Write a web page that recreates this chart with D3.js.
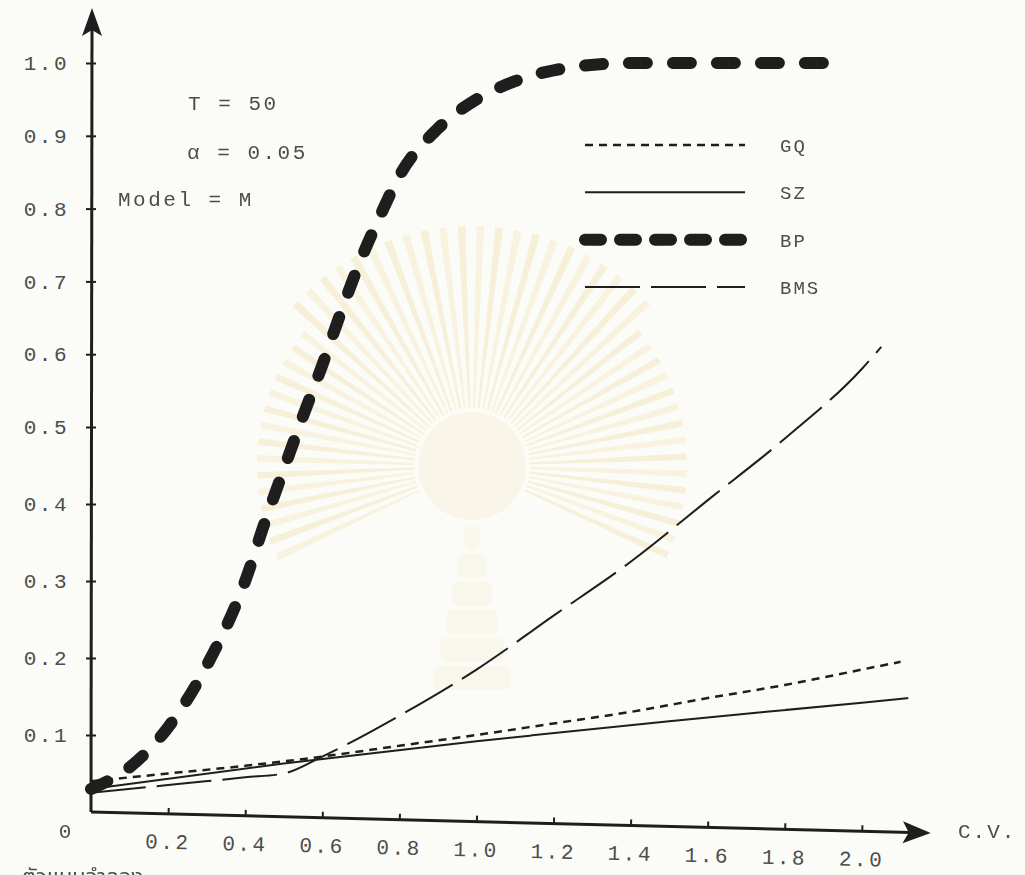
<!DOCTYPE html>
<html>
<head>
<meta charset="utf-8">
<script src="https://cdn.jsdelivr.net/npm/d3@7/dist/d3.min.js"></script>
<style>
  html, body { margin: 0; padding: 0; background: #fbfbf8; }
  svg { display: block; }
  text { font-family: "Liberation Mono", "DejaVu Sans Mono", monospace; fill: #4d4d4d; }
</style>
</head>
<body>
<svg id="chart" width="1025" height="875"></svg>
<script>
// Power of heteroscedasticity tests against the coefficient of variation (C.V.)
const cvGQ  = [0.00, 0.20, 0.40, 0.60, 0.80, 1.00, 1.20, 1.40, 1.60, 1.80, 2.00, 2.10];
const powGQ = [0.040, 0.050, 0.060, 0.072, 0.086, 0.100, 0.115, 0.130, 0.148, 0.165, 0.185, 0.195];

const cvSZ  = [0.00, 0.50, 1.00, 1.50, 2.00, 2.12];
const powSZ = [0.030, 0.063, 0.092, 0.118, 0.142, 0.148];

const cvBP  = [0.00, 0.10, 0.20, 0.30, 0.40, 0.45, 0.50, 0.55, 0.60, 0.65, 0.70, 0.75, 0.80, 0.90, 1.00, 1.10, 1.20, 1.40, 1.60, 1.80, 1.90];
const powBP = [0.030, 0.058, 0.110, 0.190, 0.300, 0.375, 0.445, 0.515, 0.585, 0.660, 0.730, 0.790, 0.845, 0.910, 0.950, 0.975, 0.990, 1.000, 1.000, 1.000, 1.000];

const cvBMS  = [0.00, 0.20, 0.40, 0.50, 0.60, 0.80, 1.00, 1.20, 1.40, 1.60, 1.80, 2.00, 2.05];
const powBMS = [0.025, 0.035, 0.045, 0.050, 0.072, 0.125, 0.185, 0.255, 0.325, 0.405, 0.485, 0.580, 0.610];

const seriesNames = ["GQ", "SZ", "BP", "BMS"];

const yTickValues = [0.1, 0.2, 0.3, 0.4, 0.5, 0.6, 0.7, 0.8, 0.9, 1.0];
const yTickLabels = ["0.1", "0.2", "0.3", "0.4", "0.5", "0.6", "0.7", "0.8", "0.9", "1.0"];
const xTickValues = [0.2, 0.4, 0.6, 0.8, 1.0, 1.2, 1.4, 1.6, 1.8, 2.0];
const xTickLabels = ["0.2", "0.4", "0.6", "0.8", "1.0", "1.2", "1.4", "1.6", "1.8", "2.0"];
const originLabel = "0";
const xAxisTitle = "C.V.";
const notes = ["T = 50", "\u03B1 = 0.05", "Model = M"];
const caption = "ตัวแบบจำลอง";

const svg = d3.select("#chart");
const ink = "#1e1e1e";
const labelInk = "#4d4d4d";

// Scales: the hand-ruled vertical axis is slightly tighter near the top
const x = d3.scaleLinear().domain([0, 2]).range([91, 862]);
const y = d3.scaleLinear().domain([0, 0.5, 1]).range([812, 427, 63]);

// Faint emblem behind the plot: sunburst rays, disc and tiered spire
const emblem = svg.append("g").attr("transform", "translate(472,466)").attr("opacity", 0.2);
const rays = d3.range(-205, 26, 4.5);
emblem.selectAll("path.ray").data(rays).join("path")
  .attr("class", "ray")
  .attr("d", a => {
    const r0 = 58, r1 = 215 + (Math.abs(a + 90) < 50 ? 25 : 0);
    const t0 = (a - 0.9) * Math.PI / 180, t1 = (a + 0.9) * Math.PI / 180;
    return `M${r0 * Math.cos(t0)},${r0 * Math.sin(t0)}L${r1 * Math.cos(t0)},${r1 * Math.sin(t0)}` +
           `L${r1 * Math.cos(t1)},${r1 * Math.sin(t1)}L${r0 * Math.cos(t1)},${r0 * Math.sin(t1)}Z`;
  })
  .attr("fill", (a, i) => i % 2 ? "#e9c25a" : "#f0d27e");
emblem.append("circle").attr("r", 54).attr("fill", "#f3e3b0");
const tiers = d3.range(6);
emblem.selectAll("rect.tier").data(tiers).join("rect")
  .attr("class", "tier")
  .attr("x", i => -8 - i * 6).attr("width", i => 16 + i * 12)
  .attr("y", i => 60 + i * 28).attr("height", 24)
  .attr("rx", 6).attr("fill", "#f1dc9e").attr("opacity", 0.6);

// Y axis with ticks crossing the line
const yAxis = svg.append("g").attr("transform", `translate(${x(0)},0)`)
  .call(d3.axisLeft(y).tickValues(yTickValues)
    .tickFormat((d, i) => yTickLabels[i]).tickSize(5).tickPadding(17));
yAxis.select(".domain").remove();
yAxis.selectAll(".tick line").attr("x1", -5).attr("x2", 5).attr("stroke", ink).attr("stroke-width", 2);
yAxis.selectAll(".tick text").attr("font-size", 21).attr("letter-spacing", 2.5)
  .attr("font-family", "Liberation Mono").attr("fill", labelInk);
svg.append("line").attr("x1", x(0)).attr("x2", x(0) + 1).attr("y1", y(0)).attr("y2", 26)
  .attr("stroke", ink).attr("stroke-width", 3);
svg.append("path").attr("d", `M${x(0) + 1},8 L${x(0) - 9},36 L${x(0) + 1},30 L${x(0) + 11},36 Z`).attr("fill", ink);

// X axis: ruled with a slight downward slant to the right
const slant = 1.43;
const xg = svg.append("g").attr("transform", `translate(${x(0)},${y(0)}) rotate(${slant})`);
const xLocal = x.copy().range([0, x(2) - x(0)]);
const xAxis = xg.append("g")
  .call(d3.axisBottom(xLocal).tickValues(xTickValues)
    .tickFormat((d, i) => xTickLabels[i]).tickSize(5).tickPadding(15));
xAxis.select(".domain").remove();
xAxis.selectAll(".tick line").attr("y1", -6).attr("y2", 0).attr("stroke", ink).attr("stroke-width", 2);
xAxis.selectAll(".tick text").attr("font-size", 21).attr("letter-spacing", 2.5)
  .attr("font-family", "Liberation Mono").attr("fill", labelInk);
xg.append("line").attr("x1", 0).attr("x2", 820).attr("y1", 0).attr("y2", 0)
  .attr("stroke", ink).attr("stroke-width", 3);
xg.append("path").attr("d", "M840,0 L812,-11 L818,0 L812,11 Z").attr("fill", ink);

svg.append("text").attr("x", 65).attr("y", 838).attr("font-size", 21).attr("text-anchor", "middle").text(originLabel);
svg.append("text").attr("x", 958).attr("y", 838).attr("font-size", 21).attr("letter-spacing", 2).text(xAxisTitle);

// Power curves
const line = d3.line().x(d => x(d[0])).y(d => y(d[1])).curve(d3.curveMonotoneX);
const styles = {
  GQ:  { width: 2.5, dash: "8 6",   cap: "butt",  legendDash: "8 6" },
  SZ:  { width: 2,   dash: null,    cap: "butt",  legendDash: null },
  BP:  { width: 12,  dash: "18 26", cap: "round", legendDash: "16 19" },
  BMS: { width: 2,   dash: "55 11", cap: "butt",  legendDash: "55 11" }
};
const series = [
  { name: "GQ",  pts: d3.zip(cvGQ, powGQ) },
  { name: "SZ",  pts: d3.zip(cvSZ, powSZ) },
  { name: "BMS", pts: d3.zip(cvBMS, powBMS) },
  { name: "BP",  pts: d3.zip(cvBP, powBP) }
];
svg.append("g").selectAll("path").data(series).join("path")
  .attr("d", s => line(s.pts))
  .attr("fill", "none").attr("stroke", ink)
  .attr("stroke-width", s => styles[s.name].width)
  .attr("stroke-dasharray", s => styles[s.name].dash)
  .attr("stroke-linecap", s => styles[s.name].cap);

// Legend
const legendY = d3.scalePoint().domain(seriesNames).range([145, 287]);
const lg = svg.append("g");
const item = lg.selectAll("g").data(seriesNames).join("g")
  .attr("transform", d => `translate(0,${legendY(d)})`);
item.append("line").attr("x1", 585).attr("x2", 745).attr("y1", 0).attr("y2", 0)
  .attr("stroke", ink)
  .attr("stroke-width", d => styles[d].width)
  .attr("stroke-dasharray", d => styles[d].legendDash)
  .attr("stroke-linecap", d => styles[d].cap);
item.append("text").attr("x", 780).attr("y", 7).attr("font-size", 19).attr("letter-spacing", 2).text(d => d);

// Study settings
const notesX = [188, 187, 118];
const notesY = [110, 159, 206];
svg.append("g").selectAll("text").data(notes).join("text")
  .attr("x", (d, i) => notesX[i]).attr("y", (d, i) => notesY[i])
  .attr("font-size", 21).attr("letter-spacing", 2.5).text(d => d);

// Caption below the chart, partly beyond the page edge
svg.append("text").attr("x", 22).attr("y", 884).attr("font-size", 22)
  .style("font-family", "'Noto Sans Thai','Noto Sans','DejaVu Sans',sans-serif").text(caption);
</script>
</body>
</html>
